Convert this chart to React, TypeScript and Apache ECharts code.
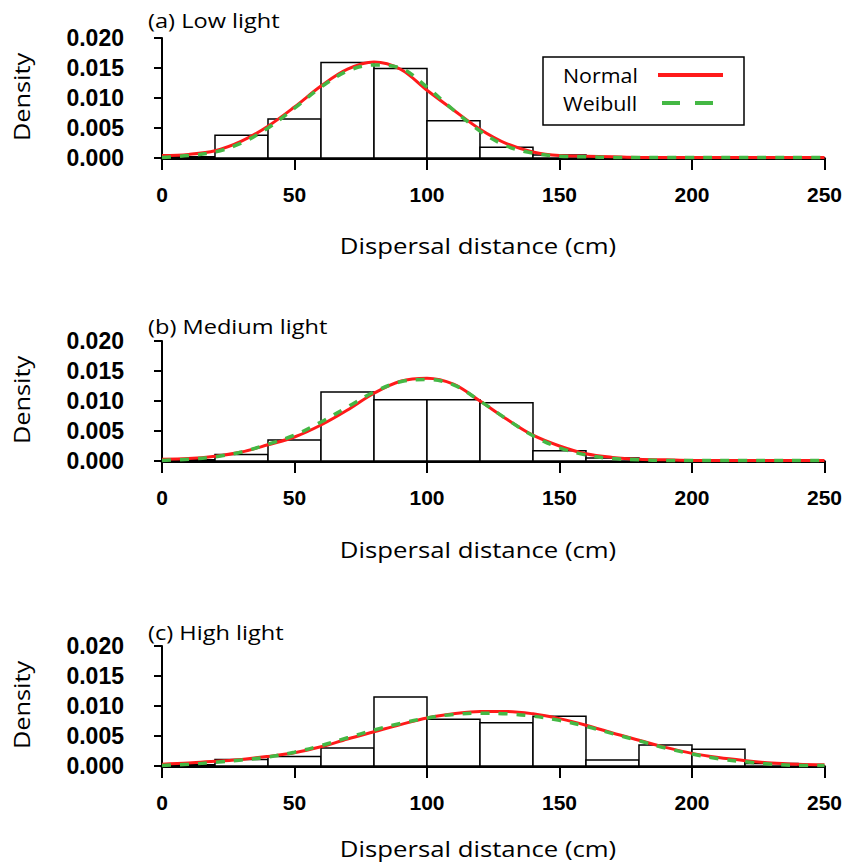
import React, { useEffect, useRef } from "react";
import * as echarts from "echarts";

// Bin edges (cm) and histogram densities per panel
const binWidth = 20;
const histLow = [0.0002, 0.0038, 0.0065, 0.0159, 0.0149, 0.0062, 0.0018, 0.0005, 0.0002];
const histMedium = [0.0002, 0.0011, 0.0035, 0.0115, 0.0102, 0.0102, 0.0097, 0.0017, 0.0005, 0.0002];
const histHigh = [0.0002, 0.0011, 0.0016, 0.0030, 0.0115, 0.0078, 0.0072, 0.0083, 0.0010, 0.0035, 0.0028, 0.0004];

// Curve sample positions (cm)
const curveX = [0, 10, 20, 30, 40, 50, 60, 70, 80, 90, 100, 110, 120, 130, 140, 150, 160, 170, 180, 190, 200, 210, 220, 230, 240, 250];

const normalLow = [0.0004, 0.0006, 0.0012, 0.0028, 0.0053, 0.0085, 0.0120, 0.0148, 0.0160, 0.0148, 0.0113, 0.0080, 0.0048, 0.0024, 0.0010, 0.0004, 0.0003, 0.0002, 0.0001, 0.0001, 0.0001, 0.0001, 0.0001, 0.0001, 0.0001, 0.0001];
const weibullLow = [0.0001, 0.0004, 0.0010, 0.0025, 0.0050, 0.0083, 0.0118, 0.0145, 0.0155, 0.0150, 0.0118, 0.0080, 0.0045, 0.0020, 0.0008, 0.0003, 0.0002, 0.0001, 0.0001, 0.0001, 0.0001, 0.0001, 0.0001, 0.0001, 0.0001, 0.0001];

const normalMedium = [0.0003, 0.0004, 0.0008, 0.0015, 0.0027, 0.0040, 0.0060, 0.0085, 0.0113, 0.0133, 0.0138, 0.0128, 0.0100, 0.0070, 0.0043, 0.0025, 0.0012, 0.0006, 0.0003, 0.0002, 0.0001, 0.0001, 0.0001, 0.0001, 0.0001, 0.0001];
const weibullMedium = [0.0001, 0.0003, 0.0007, 0.0015, 0.0028, 0.0043, 0.0065, 0.0090, 0.0115, 0.0132, 0.0136, 0.0127, 0.0100, 0.0070, 0.0042, 0.0022, 0.0010, 0.0004, 0.0002, 0.0001, 0.0001, 0.0001, 0.0001, 0.0001, 0.0001, 0.0001];

const normalHigh = [0.0003, 0.0005, 0.0008, 0.0011, 0.0016, 0.0022, 0.0032, 0.0045, 0.0057, 0.0069, 0.0080, 0.0087, 0.0091, 0.0091, 0.0087, 0.0079, 0.0068, 0.0055, 0.0043, 0.0031, 0.0021, 0.0014, 0.0009, 0.0005, 0.0003, 0.0002];
const weibullHigh = [0.0001, 0.0003, 0.0006, 0.0010, 0.0015, 0.0023, 0.0034, 0.0047, 0.0060, 0.0071, 0.0080, 0.0086, 0.0088, 0.0087, 0.0083, 0.0076, 0.0066, 0.0054, 0.0042, 0.0030, 0.0020, 0.0012, 0.0007, 0.0003, 0.0001, 0.0001];

const panelTitles = ["(a) Low light", "(b) Medium light", "(c) High light"];
const xAxisTitle = "Dispersal distance (cm)";
const yAxisTitle = "Density";
const legendNames = ["Normal", "Weibull"];

const RED = "#ff1a1a";
const GREEN = "#44b844";
const TICK_FONT = "'Liberation Sans', Arial, sans-serif";
const TEXT_FONT = "'Open Sans', 'Noto Sans', sans-serif";

const panels = [
  { hist: histLow, normal: normalLow, weibull: weibullLow, top: 38, titleY: 20, xTitleY: 245 },
  { hist: histMedium, normal: normalMedium, weibull: weibullMedium, top: 341, titleY: 326, xTitleY: 549 },
  { hist: histHigh, normal: normalHigh, weibull: weibullHigh, top: 646, titleY: 632, xTitleY: 848 },
];
const GRID_LEFT = 162;
const GRID_WIDTH = 665;
const GRID_HEIGHT = 120;

export default function App() {
  const ref = useRef<HTMLDivElement>(null);
  useEffect(() => {
    if (!ref.current) return;
    const chart = echarts.init(ref.current, undefined, { renderer: "svg" });
    const grids: any[] = [];
    const xAxes: any[] = [];
    const yAxes: any[] = [];
    const series: any[] = [];
    const graphics: any[] = [];

    panels.forEach((p, i) => {
      grids.push({ left: GRID_LEFT, top: p.top, width: GRID_WIDTH, height: GRID_HEIGHT });
      xAxes.push({
        type: "value",
        gridIndex: i,
        min: 0,
        max: 250,
        interval: 50,
        offset: 1,
        splitLine: { show: false },
        axisLine: { show: true, lineStyle: { color: "#000", width: 3 } },
        axisTick: { show: true, length: 12, lineStyle: { color: "#000", width: 2 } },
        axisLabel: {
          color: "#000",
          fontFamily: TICK_FONT,
          fontWeight: "bold",
          fontSize: 21,
          margin: 25,
          showMinLabel: true,
          showMaxLabel: true,
        },
      });
      yAxes.push({
        type: "value",
        gridIndex: i,
        min: 0,
        max: 0.02,
        interval: 0.005,
        offset: 26,
        splitLine: { show: false },
        axisLine: { show: true, lineStyle: { color: "#000", width: 2 } },
        axisTick: { show: true, length: 8, lineStyle: { color: "#000", width: 2 } },
        axisLabel: {
          color: "#000",
          fontFamily: TICK_FONT,
          fontWeight: "bold",
          fontSize: 23,
          margin: 12,
          formatter: (v: number) => v.toFixed(3),
        },
      });
      series.push({
        type: "custom",
        xAxisIndex: i,
        yAxisIndex: i,
        z: 1,
        silent: true,
        data: p.hist.map((h, k) => [k * binWidth, (k + 1) * binWidth, h]),
        encode: { x: [0, 1], y: 2 },
        renderItem: (params: any, api: any) => {
          const x0 = api.value(0);
          const x1 = api.value(1);
          const h = api.value(2);
          const a = api.coord([x0, h]);
          const b = api.coord([x1, 0]);
          return {
            type: "rect",
            shape: { x: a[0], y: a[1], width: b[0] - a[0], height: b[1] - a[1] },
            style: { fill: "#fff", stroke: "#000", lineWidth: 1.5 },
          };
        },
      });
      series.push({
        type: "line",
        name: legendNames[0],
        xAxisIndex: i,
        yAxisIndex: i,
        z: 3,
        smooth: 0.35,
        showSymbol: false,
        silent: true,
        lineStyle: { color: RED, width: 3 },
        data: curveX.map((x, k) => [x, p.normal[k]]),
      });
      series.push({
        type: "line",
        name: legendNames[1],
        xAxisIndex: i,
        yAxisIndex: i,
        z: 4,
        smooth: 0.35,
        showSymbol: false,
        silent: true,
        lineStyle: { color: GREEN, width: 3.5, type: [9, 9] },
        data: curveX.map((x, k) => [x, p.weibull[k]]),
      });
      graphics.push({
        type: "text",
        x: 148,
        y: p.titleY,
        scaleX: 1.18,
        style: { text: panelTitles[i], font: `20px ${TEXT_FONT}`, fill: "#000", verticalAlign: "middle" },
      });
      graphics.push({
        type: "text",
        x: 478,
        y: p.xTitleY,
        scaleX: 1.17,
        style: {
          text: xAxisTitle,
          font: `22px ${TEXT_FONT}`,
          fill: "#000",
          align: "center",
          verticalAlign: "middle",
        },
      });
      graphics.push({
        type: "text",
        x: 22,
        y: p.top + 59,
        rotation: Math.PI / 2,
        scaleX: 1.15,
        style: {
          text: yAxisTitle,
          font: `22px ${TEXT_FONT}`,
          fill: "#000",
          align: "center",
          verticalAlign: "middle",
        },
      });
    });

    // Legend box (panel a)
    graphics.push({
      type: "rect",
      shape: { x: 543, y: 57, width: 201, height: 68 },
      style: { fill: "#fff", stroke: "#000", lineWidth: 1.5 },
      z: 10,
    });
    graphics.push({
      type: "text",
      x: 563,
      y: 75,
      z: 11,
      scaleX: 1.07,
      style: { text: legendNames[0], font: `20px ${TEXT_FONT}`, fill: "#000", verticalAlign: "middle" },
    });
    graphics.push({
      type: "text",
      x: 563,
      y: 103,
      z: 11,
      scaleX: 1.07,
      style: { text: legendNames[1], font: `20px ${TEXT_FONT}`, fill: "#000", verticalAlign: "middle" },
    });
    graphics.push({
      type: "line",
      z: 11,
      shape: { x1: 658, y1: 75, x2: 723, y2: 75 },
      style: { stroke: RED, lineWidth: 4 },
    });
    graphics.push({
      type: "line",
      z: 11,
      shape: { x1: 662, y1: 103, x2: 713, y2: 103 },
      style: { stroke: GREEN, lineWidth: 4, lineDash: [18, 15] },
    });

    chart.setOption({
      animation: false,
      backgroundColor: "#fff",
      grid: grids,
      xAxis: xAxes,
      yAxis: yAxes,
      series,
      graphic: graphics,
    });
    return () => chart.dispose();
  }, []);
  return (
    <div
      ref={ref}
      style={{ position: "fixed", left: 0, top: 0, width: 845, height: 863, background: "#fff" }}
    />
  );
}
